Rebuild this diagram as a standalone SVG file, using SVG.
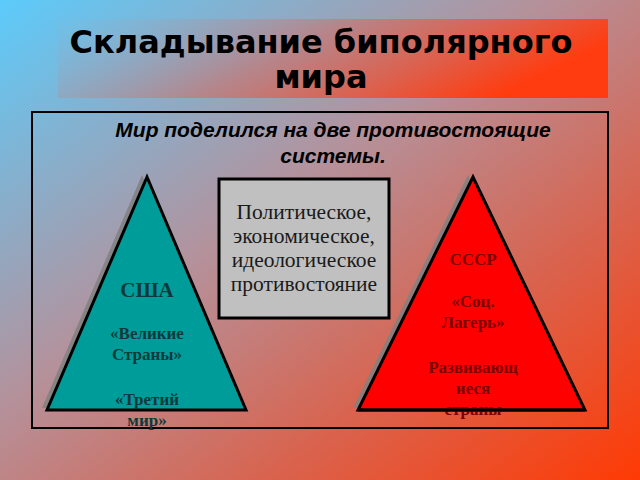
<svg xmlns="http://www.w3.org/2000/svg" width="640" height="480" viewBox="0 0 640 480">
<defs>
<linearGradient id="bg" x1="0" y1="0" x2="1" y2="1">
<stop offset="0" stop-color="#5ccbfb"/>
<stop offset="0.42" stop-color="#b4929c"/>
<stop offset="0.7" stop-color="#d86450"/>
<stop offset="1" stop-color="#ff3a04"/>
</linearGradient>
<linearGradient id="tb" x1="0" y1="0" x2="1" y2="0.3">
<stop offset="0" stop-color="#8ab8d8" stop-opacity="0.1"/>
<stop offset="0.5" stop-color="#d06a60" stop-opacity="0.55"/>
<stop offset="1" stop-color="#ff3c10"/>
</linearGradient>
<style>
.title{font-family:"DejaVu Sans",Verdana,sans-serif;font-weight:bold;font-size:32px;fill:#000;text-anchor:middle}
.sub{font-family:"Liberation Sans",Arial,sans-serif;font-weight:bold;font-style:italic;font-size:21px;fill:#000;text-anchor:middle}
.mid{font-family:"Liberation Serif","Times New Roman",serif;font-size:21.5px;fill:#1a1a1a;text-anchor:middle}
.tri{font-family:"Liberation Serif","Times New Roman",serif;font-weight:bold;font-size:17px;text-anchor:middle}
.big{font-size:21px}
.usa{fill:#0c3a3a}
.ussr{fill:#7a0000}
.shadow{fill:#808080;opacity:0.85}
</style>
</defs>
<rect width="640" height="480" fill="url(#bg)"/>
<g id="title">
<rect x="58" y="19" width="550" height="79" fill="url(#tb)"/>
<text class="title" x="321" y="53">Складывание биполярного</text>
<text class="title" x="321" y="88">мира</text>
</g>
<g id="frame">
<rect x="32" y="112" width="576" height="316" fill="none" stroke="#000" stroke-width="2"/>
<text class="sub" x="333" y="137">Мир поделился на две противостоящие</text>
<text class="sub" x="333" y="163">системы.</text>
</g>
<g id="connectors"/>
<g id="usa">
<polygon class="shadow" points="142,175 42,408 241,408"/>
<polygon points="147,177 47,410 246,410" fill="#009c9a" stroke="#000" stroke-width="3" stroke-linejoin="miter"/>
<text class="tri usa big" x="147" y="297">США</text>
<text class="tri usa" x="147" y="339">«Великие</text>
<text class="tri usa" x="147" y="360">Страны»</text>
<text class="tri usa" x="147" y="405">«Третий</text>
<text class="tri usa" x="147" y="426">мир»</text>
</g>
<g id="center">
<rect x="219" y="179" width="170" height="139" fill="#c0c0c0" stroke="#000" stroke-width="3"/>
<text class="mid" x="304" y="219">Политическое,</text>
<text class="mid" x="304" y="243">экономическое,</text>
<text class="mid" x="304" y="267">идеологическое</text>
<text class="mid" x="304" y="291">противостояние</text>
</g>
<g id="ussr">
<polygon class="shadow" points="468,175 353,408 580,408"/>
<polygon points="473,177 358,410 585,410" fill="#ff0000" stroke="#000" stroke-width="3" stroke-linejoin="miter"/>
<text class="tri ussr" x="473" y="265">СССР</text>
<text class="tri ussr" x="473" y="307">«Соц.</text>
<text class="tri ussr" x="473" y="328">Лагерь»</text>
<text class="tri ussr" x="473" y="373">Развивающ</text>
<text class="tri ussr" x="473" y="394">иеся</text>
<text class="tri ussr" x="473" y="415">страны</text>
<line x1="358" y1="410" x2="585" y2="410" stroke="#000" stroke-width="3"/>
</g>
</svg>
